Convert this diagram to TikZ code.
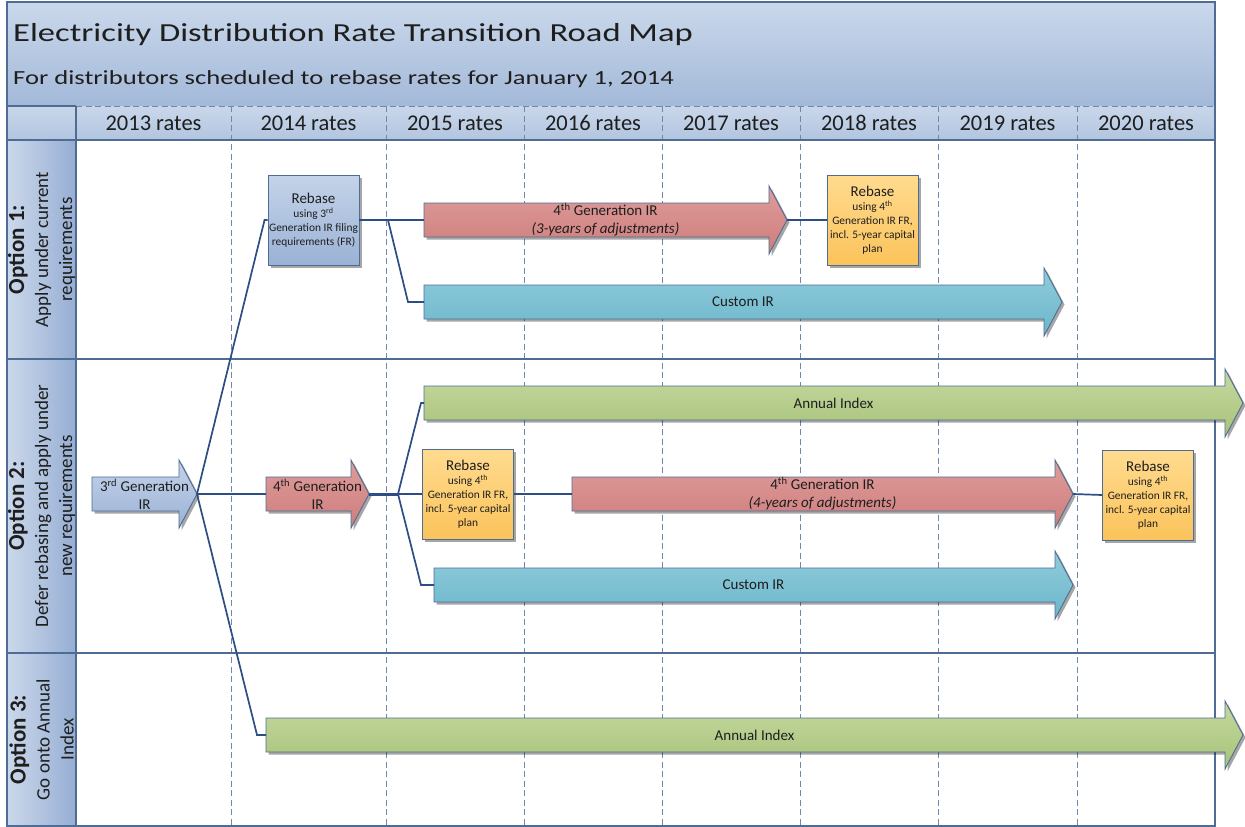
\documentclass[tikz,border=0pt]{standalone}
\usepackage{fontspec}
\setmainfont{Carlito}
\newfontfamily\titlefont[FakeStretch=1.33]{Carlito}
\usetikzlibrary{shadows}
\definecolor{gridblue}{HTML}{4F6D94}
\definecolor{dashblue}{HTML}{6F89AD}
\definecolor{linkblue}{HTML}{2C4E85}
\definecolor{textgray}{HTML}{1E1E1E}
\definecolor{bandtop}{HTML}{CAD8EB}
\definecolor{bandbot}{HTML}{A3B9D9}
\definecolor{headtop}{HTML}{C9D7EA}
\definecolor{headbot}{HTML}{B2C5E0}
\definecolor{leftlight}{HTML}{CBD8EB}
\definecolor{leftdark}{HTML}{96AED3}
\definecolor{bluetop}{HTML}{C4D3E9}
\definecolor{bluebot}{HTML}{9BB2D5}
\definecolor{redtop}{HTML}{DE9D9C}
\definecolor{redbot}{HTML}{CE7D7B}
\definecolor{orangetop}{HTML}{FFDB8F}
\definecolor{orangebot}{HTML}{FBC35B}
\definecolor{cyantop}{HTML}{90CCDB}
\definecolor{cyanbot}{HTML}{6BB7CB}
\definecolor{greentop}{HTML}{C6D9A0}
\definecolor{greenbot}{HTML}{A7C279}

% arrow: style, name, x tail, x tip, y, text
\newcommand{\ratearrow}[6]{%
  \path[roadarrow,#1] (#3,#5-17) -- (#4-18,#5-17) -- (#4-18,#5-34) -- (#4,#5)
    -- (#4-18,#5+34) -- (#4-18,#5+17) -- (#3,#5+17) -- cycle;
  \coordinate (#2_tail) at (#3,#5);
  \coordinate (#2_tip) at (#4,#5);
  \node[arrowtext] (#2) at ({(#3+#4)/2},#5) {#6};%
}

\begin{document}
\begin{tikzpicture}[x=1pt,y=-1pt]
	\tikzstyle{gridline}=[draw=gridblue,line width=1.2pt]
	\tikzstyle{dashline}=[draw=dashblue,line width=1pt,dash pattern=on 6pt off 3.5pt]
	\tikzstyle{link}=[draw=linkblue,line width=1.7pt]
	\tikzstyle{roadarrow}=[draw=gridblue,line width=0.9pt,drop shadow={shadow xshift=2.5pt,shadow yshift=-2.5pt,fill=black,opacity=0.35}]
	\tikzstyle{arrowtext}=[font=\fontsize{15}{18}\selectfont,align=center,text=textgray,inner sep=0pt]
	\tikzstyle{rebasebox}=[roadarrow,rectangle,minimum width=91pt,minimum height=90pt,inner sep=1pt,align=center,font=\fontsize{11.4}{14}\selectfont,text=textgray]
	\tikzstyle{bluefill}=[top color=bluetop,bottom color=bluebot]
	\tikzstyle{redfill}=[top color=redtop,bottom color=redbot]
	\tikzstyle{orangefill}=[top color=orangetop,bottom color=orangebot]
	\tikzstyle{cyanfill}=[top color=cyantop,bottom color=cyanbot]
	\tikzstyle{greenfill}=[top color=greentop,bottom color=greenbot]
	\tikzstyle{yearlabel}=[font=\fontsize{22.5}{26}\selectfont,text=textgray]
	\tikzstyle{optionlabel}=[rotate=90,align=center,font=\fontsize{19}{24}\selectfont,text=textgray]

	\fill[white] (0,0) rectangle (1245,827);
	\useasboundingbox (0,0) rectangle (1245,827);

	% title band and header row
	\path[top color=bandtop,bottom color=bandbot] (7,2) rectangle (1215,106);
	\path[top color=headtop,bottom color=headbot] (7,106) rectangle (1215,140);
	\foreach \ya/\yb in {140/359,359/653,653/826}
		\path[left color=leftlight,right color=leftdark] (7,\ya) rectangle (76,\yb);

	\node[anchor=base west,font=\titlefont\fontsize{26}{30}\selectfont,text=textgray,inner sep=0pt] (title) at (13,41) {Electricity Distribution Rate Transition Road Map};
	\node[anchor=base west,font=\titlefont\fontsize{20}{24}\selectfont,text=textgray,inner sep=0pt] (subtitle) at (13,84) {For distributors scheduled to rebase rates for January 1, 2014};

	\foreach \x/\yr in {153.5/2013,308.5/2014,455/2015,593/2016,731/2017,869/2018,1007.5/2019,1146/2020}
		\node[yearlabel] (year\yr) at (\x,123) {\yr\ rates};

	% grid
	\draw[gridline] (7,106) -- (76,106);
	\draw[dashline] (76,106) -- (1215,106);
	\foreach \x in {231,386,524,662,800,938,1077}
		\draw[dashline] (\x,106) -- (\x,826);
	\draw[gridline] (76,106) -- (76,826);
	\foreach \y in {140,359,653}
		\draw[gridline] (7,\y) -- (1215,\y);
	\draw[gridline] (7,2) rectangle (1215,826);

	\node[optionlabel] (option1) at (41.5,249.5) {{\bfseries\fontsize{23}{24}\selectfont Option 1:}\\Apply under current\\requirements};
	\node[optionlabel] (option2) at (41.5,506) {{\bfseries\fontsize{23}{24}\selectfont Option 2:}\\Defer rebasing and apply under\\new requirements};
	\node[optionlabel] (option3) at (41.5,739.5) {{\bfseries\fontsize{23}{24}\selectfont Option 3:}\\Go onto Annual\\Index};

	% option 1
	\node[rebasebox,bluefill] (rebase_ir3) at (313.5,220) {{\fontsize{15}{15}\selectfont Rebase}\\using 3\textsuperscript{rd}\\Generation IR filing\\requirements (FR)};
	\ratearrow{redfill}{gen4_opt1}{424}{787}{220}{4\textsuperscript{th} Generation IR\\\textit{(3-years of adjustments)}}
	\node[rebasebox,orangefill] (rebase_opt1) at (872.5,220) {{\fontsize{15}{15}\selectfont Rebase}\\using 4\textsuperscript{th}\\Generation IR FR,\\incl. 5-year capital\\plan};
	\ratearrow{cyanfill}{custom_opt1}{424}{1062}{302}{Custom IR}

	% option 2
	\ratearrow{bluefill}{gen3}{92}{197}{494}{3\textsuperscript{rd} Generation\\IR}
	\ratearrow{redfill}{gen4_short}{266}{369}{494}{4\textsuperscript{th} Generation\\IR}
	\ratearrow{greenfill}{annual_opt2}{424}{1243}{403}{Annual Index}
	\node[rebasebox,orangefill] (rebase_opt2a) at (468,494) {{\fontsize{15}{15}\selectfont Rebase}\\using 4\textsuperscript{th}\\Generation IR FR,\\incl. 5-year capital\\plan};
	\ratearrow{redfill}{gen4_opt2}{572}{1073}{494}{4\textsuperscript{th} Generation IR\\\textit{(4-years of adjustments)}}
	\node[rebasebox,orangefill] (rebase_opt2b) at (1148,495) {{\fontsize{15}{15}\selectfont Rebase}\\using 4\textsuperscript{th}\\Generation IR FR,\\incl. 5-year capital\\plan};
	\ratearrow{cyanfill}{custom_opt2}{434}{1073}{585}{Custom IR}

	% option 3
	\ratearrow{greenfill}{annual_opt3}{266}{1243}{735}{Annual Index}

	% connectors
	\coordinate (split_opt1) at (388,220);
	\coordinate (split_opt2) at (398,494);
	\draw[link] (gen3_tip) -- ([xshift=-3pt]rebase_ir3.west) -- (rebase_ir3.west);
	\draw[link] (gen3_tip) -- (gen4_short_tail);
	\draw[link] (gen3_tip) -- ([xshift=-9pt]annual_opt3_tail) -- (annual_opt3_tail);

	\draw[link] (rebase_ir3.east) -- (gen4_opt1_tail);
	\draw[link] (split_opt1) -- ([xshift=-16pt]custom_opt1_tail) -- (custom_opt1_tail);
	\draw[link] (gen4_opt1_tip) -- (rebase_opt1.west);

	\draw[link,line width=3pt] (gen4_short_tip) -- (split_opt2);
	\draw[link] (split_opt2) -- ([xshift=-3pt]annual_opt2_tail) -- (annual_opt2_tail);
	\draw[link] (split_opt2) -- (rebase_opt2a.west);
	\draw[link] (split_opt2) -- ([xshift=-13pt]custom_opt2_tail) -- (custom_opt2_tail);
	\draw[link] (rebase_opt2a.east) -- (gen4_opt2_tail);
	\draw[link] (gen4_opt2_tip) -- (rebase_opt2b.west);
\end{tikzpicture}
\end{document}
